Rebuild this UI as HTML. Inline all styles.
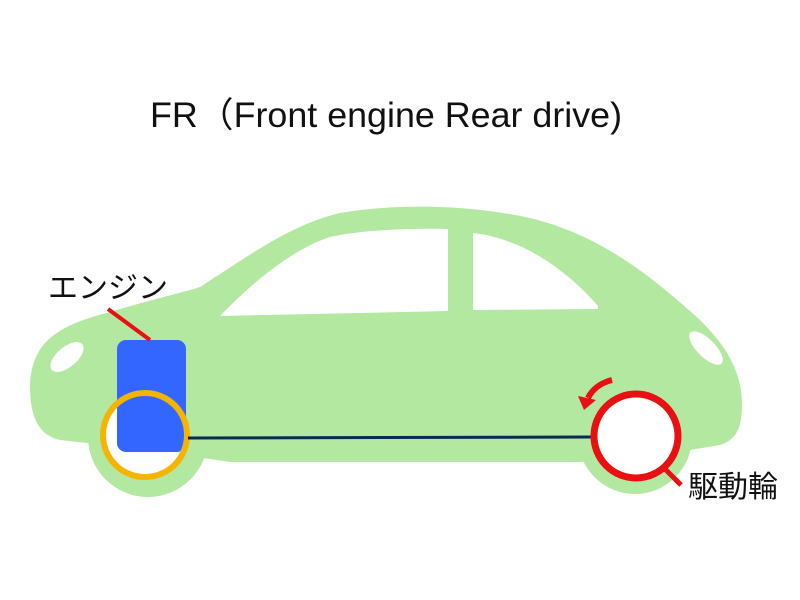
<!DOCTYPE html>
<html><head><meta charset="utf-8"><style>
html,body{margin:0;padding:0;background:#fff;width:800px;height:600px;overflow:hidden}
svg{display:block}
text{font-family:"Liberation Sans","Noto Sans CJK JP",sans-serif}
</style></head><body>
<svg width="800" height="600" viewBox="0 0 800 600">
<rect width="800" height="600" fill="#fff"/>
<text x="150" y="127" font-size="35" fill="#111" textLength="472" lengthAdjust="spacingAndGlyphs">FR（Front engine Rear drive)</text>
<g fill="#b3e8a0">
<path d="M30,385 C32,340 60,325 110,312 C150,300 185,292 200,287 C250,255 290,225 340,213 C400,203 470,205 530,218 C600,235 650,275 700,320 C725,345 742,370 742,405 C742,430 735,440 720,445 L690,450 L580,462 L230,462 L150,450 L60,440 C40,435 30,420 30,385 Z"/>
<circle cx="148" cy="437" r="60"/>
<circle cx="635" cy="437" r="57"/>
</g>
<path d="M220,316 C250,285 290,250 330,237 C360,230 410,228 448,229 L448,311 Z" fill="#fff"/>
<path d="M473,233 C520,238 565,268 598,306 L598,309 L473,310 Z" fill="#fff"/>
<ellipse cx="67" cy="357" rx="10" ry="20" transform="rotate(50 67 357)" fill="#fff"/>
<ellipse cx="706" cy="348" rx="9" ry="22" transform="rotate(-45 706 348)" fill="#fff"/>
<circle cx="145" cy="435" r="42" fill="#fff"/>
<rect x="117" y="340" width="69" height="112" rx="9" fill="#3366ff"/>
<circle cx="145" cy="435" r="42" fill="none" stroke="#f5b400" stroke-width="6"/>
<line x1="188" y1="438" x2="592" y2="437" stroke="#0a2a50" stroke-width="3"/>
<circle cx="636" cy="436" r="42" fill="#fff" stroke="#e81010" stroke-width="7"/>
<line x1="664" y1="468" x2="681" y2="485" stroke="#e81010" stroke-width="5"/>
<path d="M612,380 C600,383 592,390 588,398" fill="none" stroke="#e81010" stroke-width="6"/>
<polygon points="578,396 596,400 584,410" fill="#e81010"/>
<line x1="108" y1="309" x2="150" y2="340" stroke="#e81010" stroke-width="4"/>
<text x="48" y="298" font-size="30" fill="#111">エンジン</text>
<text x="688" y="497" font-size="30" fill="#111">駆動輪</text>
</svg>
</body></html>
